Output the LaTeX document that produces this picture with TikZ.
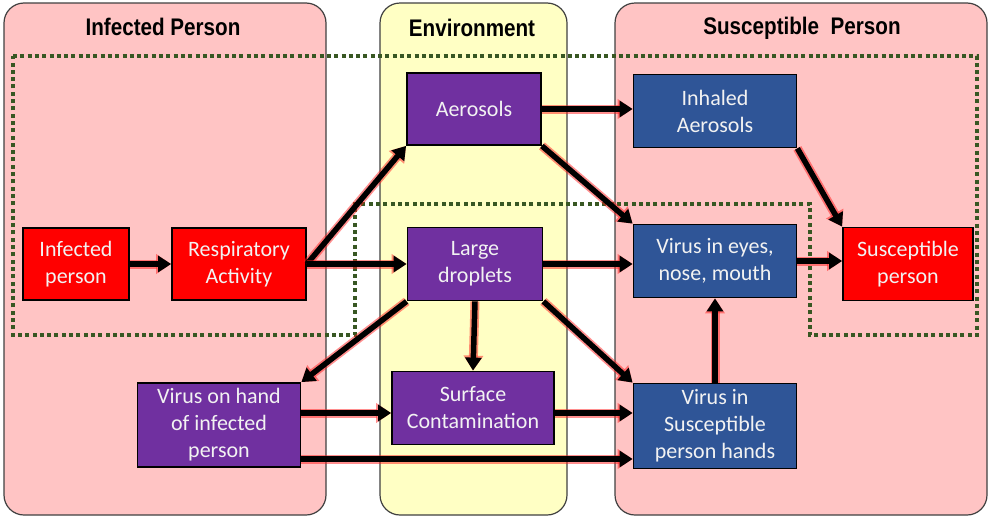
\documentclass[tikz,border=0pt]{standalone}
\usepackage{fontspec}
\setmainfont{Carlito}
\newfontfamily\titlefont{Liberation Sans}
\usetikzlibrary{arrows.meta}
\definecolor{lanepink}{RGB}{255,196,196}
\definecolor{laneyellow}{RGB}{255,255,196}
\definecolor{boxred}{RGB}{255,0,0}
\definecolor{boxpurple}{RGB}{112,48,160}
\definecolor{boxblue}{RGB}{47,85,151}
\definecolor{dotgreen}{RGB}{56,87,35}
\definecolor{glowred}{RGB}{255,30,30}
\tikzset{
  lane/.style={draw=black!75, line width=1.2pt, rounded corners=20pt},
  lanetitle/.style={font=\titlefont\bfseries\fontsize{24}{28}\selectfont, text=black},
  box/.style={draw=black, line width=1.8pt, text=black!5, align=center,
    font=\fontsize{22}{27}\selectfont, inner sep=0pt},
  flow/.style={line width=5.5pt, draw=black, -{Triangle[length=13pt,width=16pt]},
    preaction={draw=glowred, opacity=0.5, line width=9pt, -{Triangle[length=15pt,width=19pt]}}},
  zone/.style={draw=dotgreen, line width=4pt, dash pattern=on 4pt off 3.3pt}
}
\begin{document}
\begin{tikzpicture}[x=1pt,y=-1pt]
\useasboundingbox (0,0) rectangle (989,517);
% lanes
\path[lane, fill=lanepink] (4,3) rectangle (326,515);
\path[lane, fill=laneyellow] (380,3) rectangle (567,515);
\path[lane, fill=lanepink] (615,3) rectangle (987,515);
\node[lanetitle] (t1) at (163,27) {\scalebox{0.86}[1]{Infected Person}};
\node[lanetitle] (t2) at (472,28) {\scalebox{0.86}[1]{Environment}};
\node[lanetitle] (t3) at (802,28) {\scalebox{0.86}[1]{Susceptible~ Person}};
% dotted zone
\draw[zone] (13,56) -- (977,56) -- (977,335) -- (810,335) -- (810,204) -- (355,204) -- (355,335) -- (13,335) -- cycle;
% boxes
\node[box, fill=boxred, minimum width=106pt, minimum height=72pt] (inf) at (76,264) {Infected\\person};
\node[box, fill=boxred, minimum width=134pt, minimum height=72pt] (resp) at (239,264) {Respiratory\\Activity};
\node[box, fill=boxpurple, minimum width=134pt, minimum height=72pt] (aer) at (474,109) {Aerosols};
\node[box, fill=boxpurple, minimum width=135pt, minimum height=73pt] (ld) at (475,264) {Large\\droplets};
\node[box, fill=boxpurple, minimum width=162pt, minimum height=73pt] (surf) at (473,408) {Surface\\Contamination};
\node[box, fill=boxpurple, minimum width=163pt, minimum height=84pt] (hand) at (219,425) {Virus on hand\\of infected\\person};
\node[box, fill=boxblue, minimum width=163pt, minimum height=73pt] (inh) at (715,111) {Inhaled\\Aerosols};
\node[box, fill=boxblue, minimum width=163pt, minimum height=73pt] (eyes) at (715,261) {Virus in eyes,\\nose, mouth};
\node[box, fill=boxred, minimum width=130pt, minimum height=73pt] (sp) at (908,264) {Susceptible\\person};
\node[box, fill=boxblue, minimum width=163pt, minimum height=85pt] (hands) at (715,426) {Virus in\\Susceptible\\person hands};
% connectors
\draw[flow] (inf.east) -- (resp.west);
\draw[flow] (resp.east) -- (aer.south west);
\draw[flow] (resp.east) -- (ld.west);
\draw[flow] (aer.east) -- (aer.east -| inh.west);
\draw[flow] (aer.south east) -- (eyes.north west);
\draw[flow] (ld.east) -- (ld.east -| eyes.west);
\draw[flow] (ld.south west) -- (hand.north east);
\draw[flow] (ld.south) -- (surf.north);
\draw[flow] (ld.south east) -- (hands.north west);
\draw[flow] ([yshift=12pt]hand.east) -- ([yshift=12pt]hand.east -| surf.west);
\draw[flow] ([yshift=-5pt]surf.east) -- ([yshift=-5pt]surf.east -| hands.west);
\draw[flow] ([yshift=-34pt]hand.east) -- ([yshift=-34pt]hand.east -| hands.west);
\draw[flow] (hands.north) -- (eyes.south);
\draw[flow] (inh.south east) -- (sp.north west);
\draw[flow] (eyes.east) -- (eyes.east -| sp.west);
\end{tikzpicture}
\end{document}
